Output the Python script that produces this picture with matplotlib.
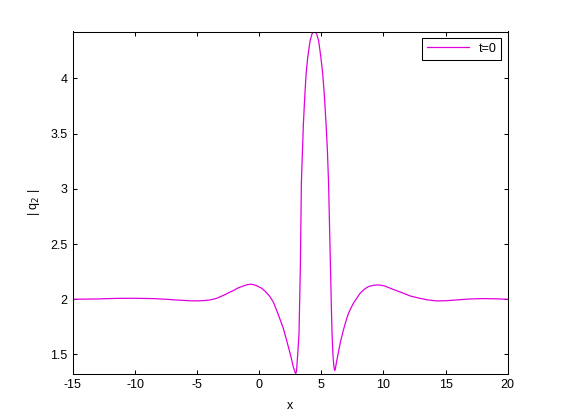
import matplotlib
matplotlib.use('Agg')
import matplotlib.pyplot as plt

plt.rcParams['font.family'] = ['Liberation Sans', 'DejaVu Sans']
plt.rcParams['font.size'] = 9

# values (|q2| at t=0)
x = [-15, -13, -11.5, -10, -8.5, -7.5, -6.5, -5.5, -4.8, -4.4, -4.0, -3.44,
     -2.8, -2.45, -2.1, -1.7, -1.29, -0.95, -0.61, -0.25, 0.19, 0.5, 0.86,
     1.15, 1.4, 1.7, 1.94, 2.15, 2.34, 2.55, 2.74, 2.85, 2.93, 3.0, 3.1,
     3.2, 3.31, 3.39, 3.44, 3.55, 3.66, 3.77, 3.9, 4.09, 4.25, 4.45, 4.62,
     4.78, 4.95, 5.11, 5.25, 5.38, 5.48, 5.58, 5.66, 5.73, 5.8, 5.86, 5.93,
     6.0, 6.06, 6.12, 6.2, 6.37, 6.55, 6.77, 6.97, 7.18, 7.38, 7.58, 7.85,
     8.12, 8.45, 8.79, 9.2, 9.6, 10.05, 10.54, 11.0, 11.48, 12.15, 12.8,
     13.5, 14.3, 15.1, 16.0, 17.0, 18.0, 19.0, 20.0]
q2 = [2.0, 2.003, 2.008, 2.009, 2.006, 2.0, 1.992, 1.986, 1.986, 1.989,
      1.993, 2.008, 2.04, 2.06, 2.078, 2.103, 2.12, 2.133, 2.136, 2.125,
      2.10, 2.07, 2.024, 1.97, 1.90, 1.81, 1.736, 1.65, 1.57, 1.48, 1.387,
      1.35, 1.325, 1.35, 1.51, 1.69, 2.30, 3.05, 3.22, 3.58, 3.83, 4.04,
      4.19, 4.34, 4.405, 4.425, 4.405, 4.34, 4.20, 4.04, 3.83, 3.58, 3.36,
      3.05, 2.65, 2.30, 1.95, 1.69, 1.50, 1.40, 1.355, 1.365, 1.42, 1.52,
      1.62, 1.72, 1.80, 1.873, 1.92, 1.964, 2.01, 2.055, 2.09, 2.115, 2.127,
      2.13, 2.122, 2.10, 2.08, 2.06, 2.03, 2.012, 1.995, 1.985, 1.987, 1.995,
      2.003, 2.006, 2.004, 2.0]
xticks = [-15, -10, -5, 0, 5, 10, 15, 20]
yticks = [1.5, 2, 2.5, 3, 3.5, 4]

fig = plt.figure(figsize=(5.61, 4.2), dpi=100)
ax = fig.add_axes([0.13, 0.11, 0.775, 0.815])
ax.plot(x, q2, color='#e000e0', linewidth=0.9, label='t=0')

ax.set_xlim(-15, 20)
ax.set_ylim(min(q2), max(q2))
ax.set_xticks(xticks)
ax.set_yticks(yticks)
ax.set_xticklabels([str(v) for v in xticks])
ax.set_yticklabels(['1.5', '2', '2.5', '3', '3.5', '4'])
ax.tick_params(direction='in', length=3, width=0.75, top=True, right=True, pad=4)
for s in ax.spines.values():
    s.set_linewidth(0.75)

ax.set_xlabel('x', labelpad=6)
ax.set_ylabel('| q$_2$ |', labelpad=6)

leg = ax.legend(loc='upper right', fancybox=False, edgecolor='black',
                framealpha=1, handlelength=3.3, borderaxespad=0.5)
leg.get_frame().set_linewidth(0.75)

fig.savefig('out.png', dpi=100)
